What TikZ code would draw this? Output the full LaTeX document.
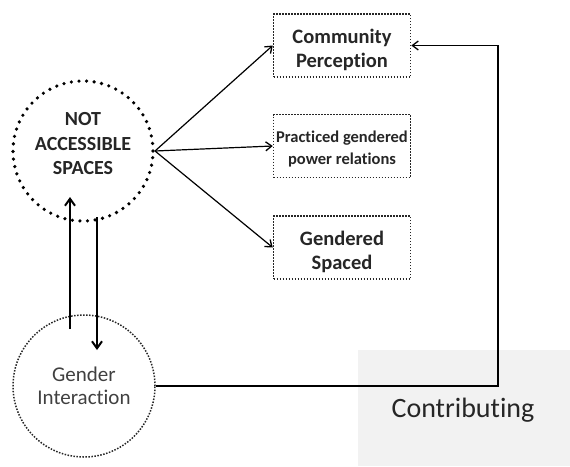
\documentclass[tikz,border=0pt]{standalone}
\usepackage{fontspec}
\setmainfont{Carlito}[Ligatures=NoCommon]
\usetikzlibrary{arrows.meta,calc}
\definecolor{ink}{HTML}{262626}
\definecolor{softink}{HTML}{404040}
\definecolor{panel}{HTML}{F2F2F2}
\tikzset{
  bigdots/.style={draw=black, line width=3.6pt, line cap=round, dash pattern=on 0pt off 7.6pt},
  finedots/.style={draw=black!85, line width=1.5pt, dash pattern=on 1.5pt off 1.5pt},
  factorbox/.style={finedots, minimum width=137pt, minimum height=63pt},
  boxtext/.style={align=center, inner sep=0pt, yshift=-4.5pt,
                  font=\bfseries\fontsize{20.5}{24.5}\selectfont, text=ink},
  link/.style={draw=black, line width=1.2pt, -{Straight Barb[length=6pt,width=9pt,line width=1.3pt]}},
  flow/.style={draw=black, line width=2pt, -{Straight Barb[length=7pt,width=10pt,line width=2pt]}}
}
\begin{document}
\begin{tikzpicture}[x=1pt,y=-1pt]
\useasboundingbox (0,0) rectangle (570,466);
% shaded label panel
\fill[panel] (358,350) rectangle (570,466);
\node[font=\fontsize{28}{32}\selectfont, text=ink] (contrib) at (463,410) {Contributing};

% central concept
\node[circle, minimum size=140pt, inner sep=0pt] (nas) at (83,151) {};
\draw[bigdots] (nas.center) circle (70pt);
\node[align=center, font=\bfseries\fontsize{20}{24.5}\selectfont, text=ink] (nastext) at (83,144)
  {NOT\\ACCESSIBLE\\SPACES};

% interaction circle
\node[circle, finedots, minimum size=142pt, inner sep=0pt, align=center,
      font=\fontsize{21}{23}\selectfont, text=softink] (gi) at (84,386) {Gender\\Interaction};

% factor boxes and their captions
\node[factorbox] (cp) at (342,45.5) {};
\node[boxtext] (cptext) at (cp.center) {Community\\Perception};
\node[factorbox] (pg) at (342,146) {};
\node[boxtext, yshift=1.5pt, font=\bfseries\fontsize{16.5}{22}\selectfont] (pgtext) at (pg.center)
  {Practiced gendered\\power relations};
\node[factorbox] (gs) at (342,247.5) {};
\node[boxtext] (gstext) at (gs.center) {Gendered\\Spaced};

% arrows out of the central concept
\coordinate (fan) at (155,151);
\draw[link] (fan) -- (cp.west);
\draw[link] (fan) -- (pg.west);
\draw[link] (fan) -- (gs.west);

% two-way link between the circles
\coordinate (upfrom) at (70,329);
\coordinate (upto) at (70,197);
\coordinate (downfrom) at (97,217);
\coordinate (downto) at (97,350);
\draw[flow] (upfrom) -- (upto);
\draw[flow] (downfrom) -- (downto);

% feedback line
\coordinate (turn) at (498,386);
\draw[link] (gi.east) -- (turn) |- (cp.east);
\end{tikzpicture}
\end{document}
